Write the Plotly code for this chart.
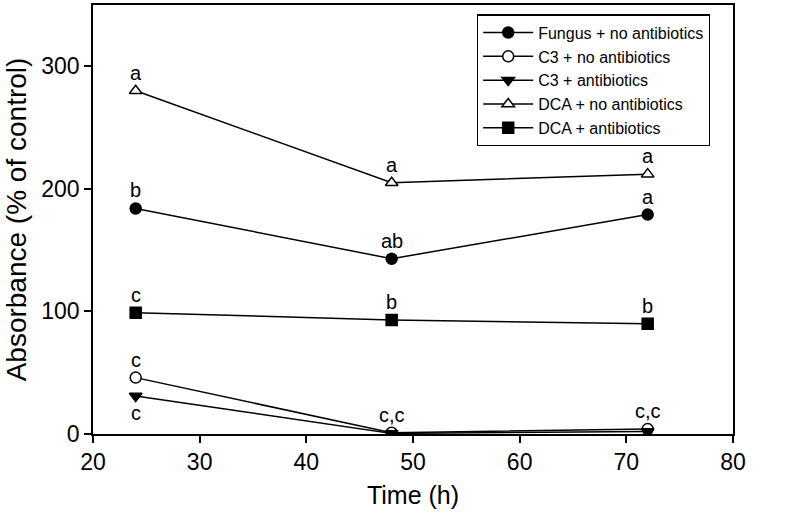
import plotly.graph_objects as go

time_h = [24, 48, 72]

series_names = [
    "Fungus + no antibiotics",
    "C3 + no antibiotics",
    "C3 + antibiotics",
    "DCA + no antibiotics",
    "DCA + antibiotics",
]
fungus_no_ab = [184, 143, 179]
c3_no_ab = [46, 1, 4]
c3_ab = [31, 0.5, 2]
dca_no_ab = [280, 205, 212]
dca_ab = [99, 93, 90]

letters_fungus_no_ab = ["b", "ab", "a"]
letters_c3_no_ab = ["c", "c,c", "c,c"]
letters_c3_ab = ["c", "", ""]
letters_dca_no_ab = ["a", "a", "a"]
letters_dca_ab = ["c", "b", "b"]

x_ticks = [20, 30, 40, 50, 60, 70, 80]
y_ticks = [0, 100, 200, 300]

FONT = "Liberation Sans, Arial, Helvetica, sans-serif"

styles = [
    dict(symbol="circle", color="black"),
    dict(symbol="circle", color="white"),
    dict(symbol="triangle-down", color="black"),
    dict(symbol="triangle-up", color="white"),
    dict(symbol="square", color="black"),
]
values = [fungus_no_ab, c3_no_ab, c3_ab, dca_no_ab, dca_ab]
letters = [letters_fungus_no_ab, letters_c3_no_ab, letters_c3_ab,
           letters_dca_no_ab, letters_dca_ab]
label_below = [False, False, True, False, False]

fig = go.Figure()
for name, vals, st in zip(series_names, values, styles):
    fig.add_trace(go.Scatter(
        x=time_h, y=vals, name=name, mode="lines+markers",
        line=dict(color="black", width=1.5),
        marker=dict(symbol=st["symbol"], color=st["color"], size=11,
                    line=dict(color="black", width=1.5)),
    ))

annotations = []
for vals, labs, below in zip(values, letters, label_below):
    for xv, yv, t in zip(time_h, vals, labs):
        if not t:
            continue
        annotations.append(dict(
            x=xv, y=yv, text=t, showarrow=False, xref="x", yref="y",
            yshift=-17 if below else 18,
            font=dict(family=FONT, size=20, color="black"),
        ))

fig.update_layout(
    width=787, height=514,
    margin=dict(l=93, r=54, t=5, b=80, autoexpand=False),
    paper_bgcolor="white", plot_bgcolor="white",
    font=dict(family=FONT, color="black"),
    showlegend=True,
    legend=dict(
        x=0.6, y=0.978, xanchor="left", yanchor="top",
        bordercolor="black", borderwidth=1.2, bgcolor="white",
        font=dict(family=FONT, size=16, color="black"),
        tracegroupgap=0, itemwidth=50,
    ),
    annotations=annotations,
)
fig.update_xaxes(
    range=[20, 80], tickvals=x_ticks, ticks="outside", ticklen=7,
    tickwidth=1.5, tickcolor="black", showline=True, linecolor="black",
    linewidth=1.5, mirror=True, showgrid=False, zeroline=False,
    automargin=False,
    tickfont=dict(family=FONT, size=23, color="black"),
    title=dict(text="Time (h)", font=dict(family=FONT, size=25, color="black"),
               standoff=12),
)
fig.update_yaxes(
    range=[0, 350], tickvals=y_ticks, ticks="outside", ticklen=7,
    tickwidth=1.5, tickcolor="black", showline=True, linecolor="black",
    linewidth=1.5, mirror=True, showgrid=False, zeroline=False,
    automargin=False,
    tickfont=dict(family=FONT, size=23, color="black"),
    title=dict(text="Absorbance (% of control)",
               font=dict(family=FONT, size=28, color="black"), standoff=6),
)

fig.write_html("out.html", config={"displayModeBar": False},
               post_script="document.body.style.margin='0px';")
